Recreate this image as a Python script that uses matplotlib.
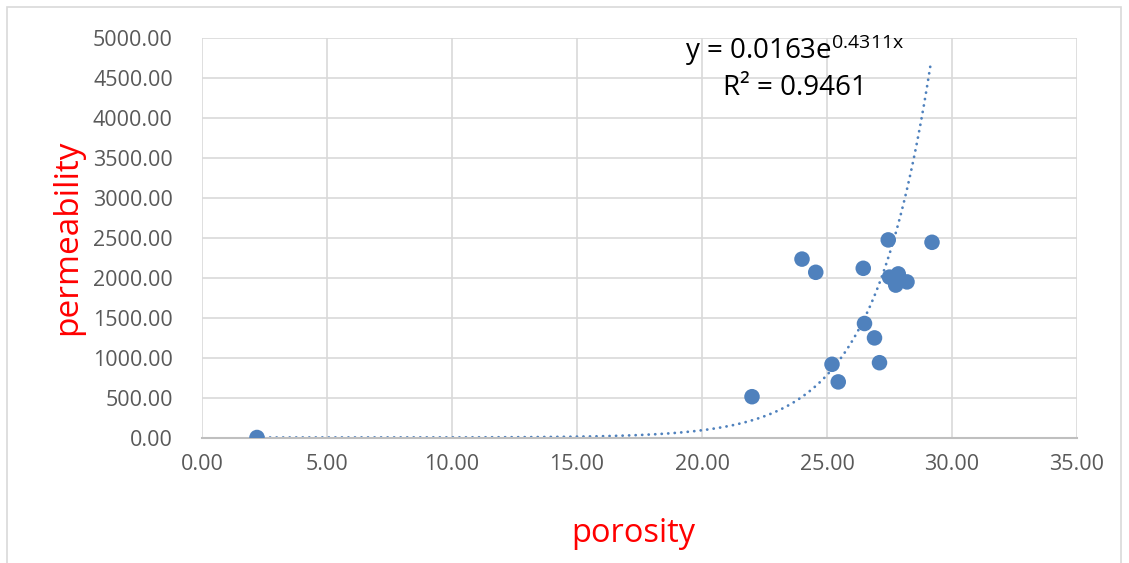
import matplotlib.pyplot as plt
import numpy as np
from matplotlib.patches import Rectangle

plt.rcParams["font.family"] = ["Open Sans", "DejaVu Sans"]
plt.rcParams["mathtext.default"] = "regular"

# data
porosity = [2.2, 22.0, 24.0, 24.55, 25.2, 25.45, 26.45, 26.5, 26.9, 27.1,
            27.45, 27.5, 27.75, 27.85, 28.2, 29.2]
permeability = [0, 510, 2230, 2065, 915, 695, 2115, 1425, 1245, 935,
                2470, 2005, 1905, 2045, 1945, 2440]

# exponential trendline as given on the chart
fit_a = 0.0163
fit_b = 0.4311
fit_r2 = 0.9461

xticks = np.arange(0, 36, 5)
yticks = np.arange(0, 5001, 500)

blue = "#4F81BD"

fig = plt.figure(figsize=(11.29, 5.63), dpi=100)
fig.patches.append(Rectangle((7/1129, -0.01), 1114/1129, 1 - 7/563 + 0.01,
                             transform=fig.transFigure, fill=False,
                             edgecolor="#D9D9D9", linewidth=1.2))
ax = fig.add_axes([202/1129, 1 - 437.5/563, 875/1129, 400/563])

xt = np.linspace(min(porosity), 29.15, 400)
ax.plot(xt, fit_a*np.exp(fit_b*xt), color=blue, linewidth=2.0,
        linestyle=(0, (0.05, 2.3)), dash_capstyle="round", zorder=2)
ax.scatter(porosity, permeability, s=125, color=blue, edgecolors="none", zorder=3)

ax.set_xlim(0, 35)
ax.set_ylim(0, 5000)
ax.set_xticks(xticks)
ax.set_yticks(yticks)
ax.set_xticklabels([f"{v:.2f}" for v in xticks])
ax.set_yticklabels([f"{v:.2f}" for v in yticks])
ax.tick_params(axis="both", length=0, labelsize=15.5, colors="#595959")
ax.tick_params(axis="y", pad=21)
ax.tick_params(axis="x", pad=12)
ax.grid(True, color="#D9D9D9", linewidth=1.2)
ax.set_axisbelow(True)
for s in ["top", "right", "left"]:
    ax.spines[s].set_visible(False)
ax.spines["bottom"].set_color("#BFBFBF")
ax.spines["bottom"].set_linewidth(1.5)

ax.text(795/1129, 1 - 50/563, f"y = {fit_a}e$^{{{fit_b}x}}$", transform=fig.transFigure,
        ha="center", va="center", fontsize=20, color="black")
ax.text(795/1129, 1 - 88/563, f"R² = {fit_r2}", transform=fig.transFigure,
        ha="center", va="center", fontsize=20, color="black")

fig.text(68/1129, 1 - 237/563, "permeability", rotation=90, ha="center", va="center",
         fontsize=24, color="red")
fig.text(633/1129, 1 - 533/563, "porosity", ha="center", va="center",
         fontsize=23.5, color="red")

fig.savefig("out.png", dpi=100)
